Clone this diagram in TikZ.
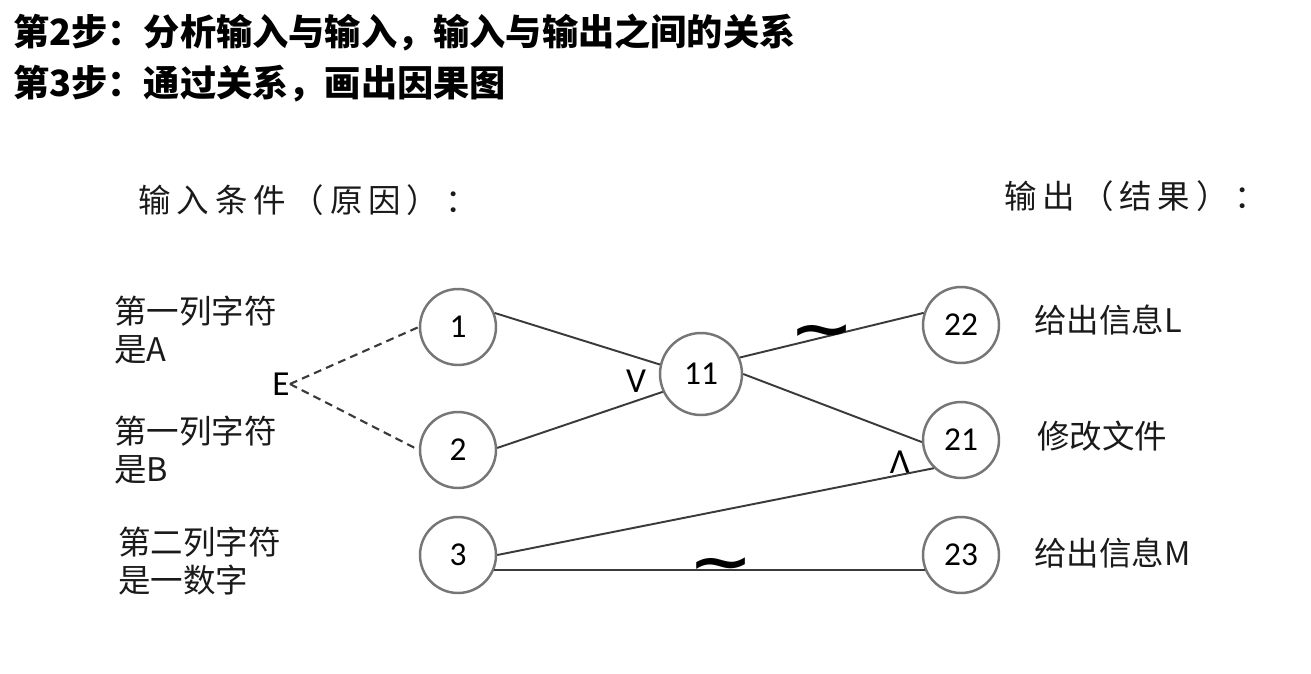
\documentclass[tikz,border=0pt]{standalone}
\usepackage{fontspec}
\setmainfont{Carlito}
\newfontfamily\cjk{Noto Sans CJK SC}
\newfontfamily\cjkhead{Noto Sans CJK SC}[LetterSpace=18]
\newfontfamily\symfont{DejaVu Sans}
\definecolor{linegray}{HTML}{3A3A3A}
\definecolor{ringgray}{HTML}{767676}
\definecolor{textblack}{HTML}{1A1A1A}

\begin{document}
\begin{tikzpicture}[x=0.02cm, y=-0.02cm,
  cnode/.style={draw=ringgray, line width=1.4pt, circle, minimum size=1.52cm,
                inner sep=0pt, fill=white, font=\fontsize{19}{19}\selectfont},
  lbl/.style={anchor=west, align=left, inner sep=0pt, text=textblack,
              font=\cjk\fontsize{18.5}{22}\selectfont},
  hdr/.style={anchor=west, inner sep=0pt, text=textblack,
              font=\cjkhead\fontsize{18.5}{18.5}\selectfont},
  title/.style={anchor=west, inner sep=0pt,
                font=\cjk\bfseries\fontsize{20.6}{20.6}\selectfont},
  conn/.style={draw=linegray, line width=1.1pt},
  dconn/.style={conn, line width=1.2pt, dash pattern=on 4.5pt off 3pt},
  sym/.style={inner sep=0pt, font=\fontsize{20}{20}\selectfont},
  tilde/.style={inner sep=0pt, font=\symfont\bfseries\fontsize{26}{26}\selectfont}
]
  \fill[white] (0,0) rectangle (1311,673);
  \useasboundingbox (0,0) rectangle (1311,673);

  % steps
  \node[title] (stepb) at (13,33) {第2步：分析输入与输入，输入与输出之间的关系};
  \node[title] (stepc) at (13,84) {第3步：通过关系，画出因果图};

  % column heads
  \node[hdr] (causes)  at (138,200)  {输入条件（原因）：};
  \node[hdr] (effects) at (1004,196) {输出（结果）：};

  % causes
  \node[lbl] (ca) at (114,330) {第一列字符\\是A};
  \node[lbl] (cb) at (114,450) {第一列字符\\是B};
  \node[lbl] (cc) at (118,561) {第二列字符\\是一数字};

  % effects
  \node[lbl] (el) at (1034,320) {给出信息L};
  \node[lbl] (ef) at (1037,436) {修改文件};
  \node[lbl] (em) at (1034,553) {给出信息M};

  % graph nodes
  \node[cnode] (n1)  at (458,327) {1};
  \node[cnode] (n2)  at (458,450) {2};
  \node[cnode] (n3)  at (458,555) {3};
  \node[cnode, minimum size=1.64cm] (n11) at (701,374) {11};
  \node[cnode] (n22) at (961,325) {22};
  \node[cnode] (n21) at (961,440) {21};
  \node[cnode] (n23) at (961,555) {23};

  \node[sym] (ex) at (281,384) {E};
  \node[sym] (orsym)  at (636,381) {V};
  \node[sym] (andsym) at (900,462) {Λ};

  \draw[dconn] (ex.east) -- (n1.west);
  \draw[dconn] (ex.east) -- (n2.west);
  \draw[conn] (n1.21)  -- (n11.167);
  \draw[conn] (n2.3)   -- (n11.205);
  \draw[conn] (n11.23) -- (n22.162);
  \draw[conn] (n11.0)  -- (n21.183);
  \draw[conn] (n3.east) -- (n21.226);
  \draw[conn] (n3.-22) -- (n23.202);

  \node[tilde] (nota) at (822,337) {\scalebox{1.7}[1.25]{∼}};
  \node[tilde] (notb) at (721,570) {\scalebox{1.7}[1.25]{∼}};
\end{tikzpicture}
\end{document}
